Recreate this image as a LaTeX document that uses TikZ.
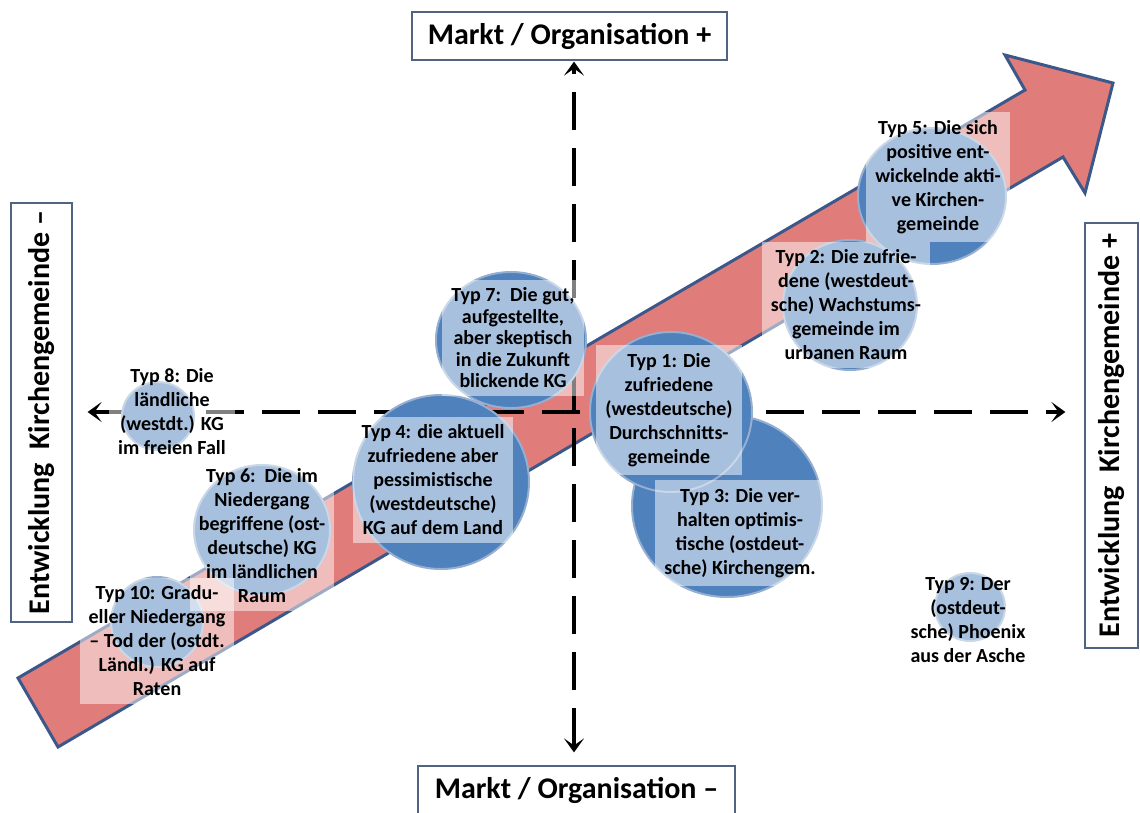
\documentclass[tikz,border=0pt]{standalone}
\usepackage{fontspec}
\setmainfont{Carlito}
\usetikzlibrary{arrows.meta,shapes.geometric}
\definecolor{pfeilrot}{RGB}{224,124,122}
\definecolor{pfeilrand}{RGB}{60,88,138}
\definecolor{kreisblau}{RGB}{79,129,189}
\definecolor{kreisrand}{RGB}{150,175,208}
\definecolor{kastenrand}{RGB}{80,100,130}

\begin{document}
\begin{tikzpicture}[x=1pt,y=-1pt,
    bub/.style={ellipse,inner sep=0pt,fill=kreisblau,draw=kreisrand,line width=2pt},
    typ/.style={fill=white,fill opacity=.5,text opacity=1,align=center,inner xsep=9pt,inner ysep=8pt,
      font=\fontsize{20}{24}\selectfont\bfseries},
    achse/.style={line width=4pt,dash pattern=on 38pt off 18pt,
      {Stealth[length=14pt,width=20pt,inset=7pt]}-{Stealth[length=14pt,width=20pt,inset=7pt]}},
    kasten/.style={draw=kastenrand,line width=1.2pt,fill=white,inner sep=0pt,
      font=\fontsize{30}{34}\selectfont\bfseries}]
    \useasboundingbox (0,0) rectangle (1140,812);
    \node[kasten,minimum width=315,minimum height=48] (N) at (569.5,36) {Markt / Organisation +};
    \node[kasten,minimum width=317,minimum height=48] (S) at (576.5,790) {Markt / Organisation --};
    \node[kasten,rotate=90,minimum width=419,minimum height=61] (W) at (41.5,412.5) {Entwicklung\ \ Kirchengemeinde --};
    \node[kasten,rotate=90,minimum width=425,minimum height=53] (E) at (1111.5,435.5) {Entwicklung\ \ Kirchengemeinde +};
    \draw[fill=pfeilrot,draw=pfeilrand,line width=3pt] (18,678) -- (1025,90) -- (1005,55) -- (1113,83)
      -- (1085,193) -- (1063,157) -- (58,747) -- cycle;
    \coordinate (O) at (574,412);
    \draw[achse,shorten <=15pt,shorten >=19pt] (O -| W.south) -- (O -| E.north);
    \draw[achse,shorten <=13pt,shorten >=1pt] (O |- S.north) -- (O |- N.south);
    \node[bub,minimum width=148,minimum height=136] (C5) at (932,196) {};
    \node[bub,minimum width=134,minimum height=130] (C2) at (850,305) {};
    \node[bub,minimum width=190,minimum height=182] (C3) at (727,506) {};
    \node[bub,minimum width=162,minimum height=160] (C1) at (671,412) {};
    \node[bub,minimum width=150,minimum height=136] (C7) at (511,340) {};
    \node[bub,minimum width=176,minimum height=174] (C4) at (441,482) {};
    \node[bub,minimum width=72,minimum height=68] (C8) at (158,416) {};
    \node[bub,minimum width=136,minimum height=130] (C6) at (262,530) {};
    \node[bub,minimum width=92,minimum height=90] (C10) at (157,622) {};
    \node[bub,minimum width=70,minimum height=68] (C9) at (970,607) {};
    \node[typ] (T5) at (938,177) {Typ 5: Die sich\\positive ent-\\wickelnde akti-\\ve Kirchen-\\gemeinde};
    \node[typ] (T2) at (846,305) {Typ 2: Die zufrie-\\dene (westdeut-\\sche) Wachstums-\\gemeinde im\\urbanen Raum};
    \node[typ] (T1) at (669,410) {Typ 1: Die\\zufriedene\\(westdeutsche)\\Durchschnitts-\\gemeinde};
    \node[typ] (T3) at (740,533) {Typ 3: Die ver-\\halten optimis-\\tische (ostdeut-\\sche) Kirchengem.};
    \node[typ,font=\fontsize{20}{21.5}\selectfont\bfseries] (T7) at (513,338) {Typ 7:\ \ Die gut,\\aufgestellte,\\aber skeptisch\\in die Zukunft\\blickende KG};
    \node[typ] (T4) at (433,480) {Typ 4: die aktuell\\zufriedene aber\\pessimistische\\(westdeutsche)\\KG auf dem Land};
    \node[typ] (T8) at (172,412) {Typ 8: Die\\ländliche\\(westdt.) KG\\im freien Fall};
    \node[typ] (T6) at (262,536) {Typ 6:\ \ Die im\\Niedergang\\begriffene (ost-\\deutsche) KG\\im ländlichen\\Raum};
    \node[typ] (T10) at (157,641) {Typ 10: Gradu-\\eller Niedergang\\-- Tod der (ostdt.\\Ländl.) KG auf\\Raten};
    \node[typ] (T9) at (968,620) {Typ 9: Der\\(ostdeut-\\sche) Phoenix\\aus der Asche};
  \end{tikzpicture}
\end{document}
